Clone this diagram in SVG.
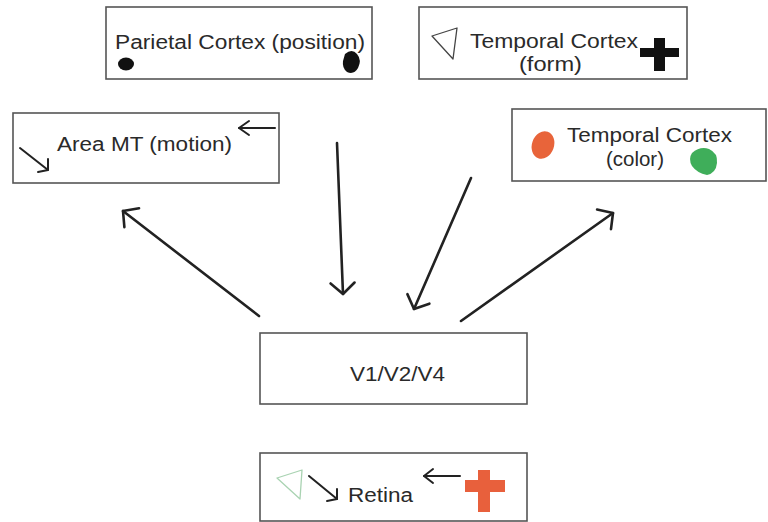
<svg xmlns="http://www.w3.org/2000/svg" width="768" height="522" viewBox="0 0 768 522">
<defs>
<style>
.box{fill:#fff;stroke:#555;stroke-width:1.6}
.lbl{font-family:"Liberation Sans",Arial,sans-serif;font-size:20px;fill:#2a2a2a}
.conn{fill:none;stroke:#222;stroke-width:2.6;stroke-linecap:round}
.thin{fill:none;stroke:#222;stroke-width:2;stroke-linecap:round;stroke-linejoin:round}
</style>
<marker id="ah" markerUnits="userSpaceOnUse" orient="auto" refX="0" refY="0" markerWidth="40" markerHeight="40" viewBox="-20 -20 40 40" overflow="visible">
<path d="M-11,-12 L0,0 L-11,12" fill="none" stroke="#222" stroke-width="2.6" stroke-linecap="round" stroke-linejoin="round"/>
</marker>
</defs>
<rect width="768" height="522" fill="#fff"/>

<g id="connectors">
<line class="conn" x1="259" y1="316" x2="123" y2="211" marker-end="url(#ah)"/>
<line class="conn" x1="337" y1="143" x2="343" y2="294" marker-end="url(#ah)"/>
<line class="conn" x1="471" y1="178" x2="414" y2="309" marker-end="url(#ah)"/>
<line class="conn" x1="461" y1="321" x2="613" y2="213" marker-end="url(#ah)"/>
</g>

<g id="parietal">
<rect class="box" x="106" y="7" width="266" height="72"/>
<text class="lbl" x="115" y="49" textLength="250" lengthAdjust="spacingAndGlyphs">Parietal Cortex (position)</text>
<ellipse cx="126" cy="64" rx="8" ry="6.5" fill="#111"/>
<path d="M345,54 Q352,48 357,54 Q362,60 358,68 Q354,75 347,72 Q342,68 343,61 Z" fill="#111"/>
</g>

<g id="temporal-form">
<rect class="box" x="419" y="7" width="268" height="72"/>
<text class="lbl" x="470" y="48" textLength="168" lengthAdjust="spacingAndGlyphs">Temporal Cortex</text>
<text class="lbl" x="519" y="71" textLength="63" lengthAdjust="spacingAndGlyphs">(form)</text>
<polygon points="432,36 457,28 453,59" fill="none" stroke="#444" stroke-width="1.3" stroke-linejoin="round"/>
<rect x="640" y="48" width="39" height="9" fill="#111"/>
<rect x="654" y="38" width="11" height="33" fill="#111"/>
</g>

<g id="area-mt">
<rect class="box" x="13" y="113" width="266" height="70"/>
<text class="lbl" x="57" y="151" textLength="175" lengthAdjust="spacingAndGlyphs">Area MT (motion)</text>
<line class="thin" x1="275" y1="128" x2="239" y2="128"/>
<polyline class="thin" points="249,121 239,128 249,135"/>
<line class="thin" x1="20" y1="148" x2="48" y2="170"/>
<polyline class="thin" points="38,172 48,170 48,159"/>
</g>

<g id="temporal-color">
<rect class="box" x="512" y="109" width="254" height="72"/>
<text class="lbl" x="567" y="142" textLength="165" lengthAdjust="spacingAndGlyphs">Temporal Cortex</text>
<text class="lbl" x="606" y="166" textLength="58" lengthAdjust="spacingAndGlyphs">(color)</text>
<ellipse cx="543" cy="145" rx="11" ry="14" transform="rotate(20 543 145)" fill="#e8643a"/>
<path d="M692,153 Q700,146 709,149 Q718,153 717,163 Q716,173 707,175 Q697,173 692,166 Q688,159 692,153 Z" fill="#3fae5a"/>
</g>

<g id="v1v2v4">
<rect class="box" x="260" y="333" width="267" height="71"/>
<text class="lbl" x="350" y="381" textLength="95" lengthAdjust="spacingAndGlyphs">V1/V2/V4</text>
</g>

<g id="retina">
<rect class="box" x="260" y="453" width="267" height="68"/>
<polygon points="277,478 302,470 300,499" fill="none" stroke="#a9d3b2" stroke-width="1.3" stroke-linejoin="round"/>
<line class="thin" x1="309" y1="476" x2="337" y2="499"/>
<polyline class="thin" points="327,501 337,499 337,489"/>
<text class="lbl" x="348" y="502" textLength="65" lengthAdjust="spacingAndGlyphs">Retina</text>
<line class="thin" x1="460" y1="476" x2="424" y2="476"/>
<polyline class="thin" points="433,469 424,476 433,483"/>
<rect x="465" y="480" width="40" height="12" fill="#e8603c"/>
<rect x="478" y="470" width="12" height="42" fill="#e8603c"/>
</g>
</svg>
